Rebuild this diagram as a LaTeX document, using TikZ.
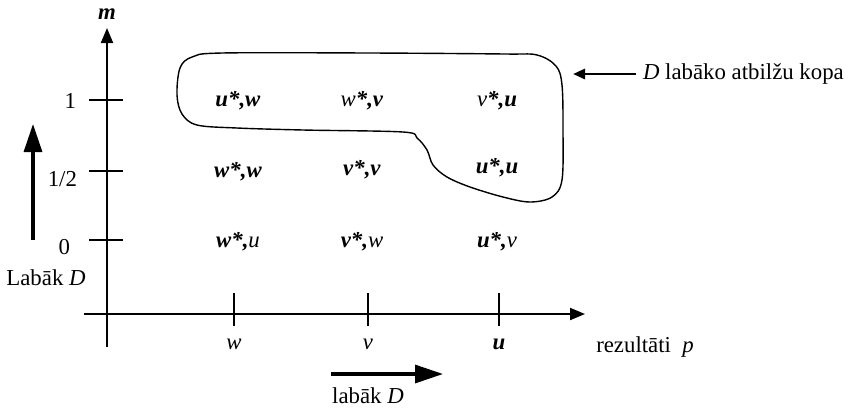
\documentclass[tikz,border=0pt]{standalone}
\usepackage{fontspec}
\setmainfont{Liberation Serif}
\usetikzlibrary{positioning}
\usetikzlibrary{arrows.meta}
\newcommand{\bfit}[1]{\textbf{\textit{#1}}}

\begin{document}
\begin{tikzpicture}[x=0.5pt, y=-0.5pt,
                font=\fontsize{11.4}{13}\selectfont,
                axisline/.style={line width=1pt, -{Triangle[length=7.5pt, width=6pt]}},
                tickline/.style={line width=0.75pt},
                bigarrow/.style={line width=1.6pt, -{Triangle[length=14pt, width=9pt]}},
                cellnode/.style={inner sep=1pt},
                blobline/.style={line width=0.7pt},
                ]
                \useasboundingbox (0,0) rectangle (850,409);

                % axes
                \coordinate (origin) at (107,314);
                \coordinate (ybot) at (107,347);
                \coordinate (ytop) at (107,28);
                \coordinate (xleft) at (84,314);
                \coordinate (xright) at (585,314);
                \draw[axisline] (ybot) -- (ytop);
                \draw[axisline] (xleft) -- (xright);
                \node (mlabel) at (107,14) {\bfit{m}};

                % ticks on m axis
                \draw[tickline] (89,100) -- (123,100);
                \draw[tickline] (89,171) -- (123,171);
                \draw[tickline] (89,240) -- (123,240);
                \node[anchor=east] (mone) at (83,101) {1};
                \node[anchor=east] (mhalf) at (84,179) {1/2};
                \node[anchor=east] (mzero) at (77,247) {0};

                % ticks on p axis
                \draw[tickline] (234,293) -- (234,326);
                \draw[tickline] (368,293) -- (368,326);
                \draw[tickline] (499,293) -- (499,326);
                \node (pw) at (234,344) {\textit{w}};
                \node (pv) at (368,344) {\textit{v}};
                \node (pu) at (499,344) {\bfit{u}};
                \node (plabel) at (645,347) {rezultāti~ \textit{p}};

                % outcomes
                \node[cellnode] (uw) at (238,101) {\bfit{u*,w}};
                \node[cellnode] (wv) at (362,101) {\textit{w}\bfit{*,v}};
                \node[cellnode] (vu) at (497,101) {\textit{v}\bfit{*,u}};
                \node[cellnode] (ww) at (238,172) {\bfit{w*,w}};
                \node[cellnode] (vv) at (362,170) {\bfit{v*,v}};
                \node[cellnode] (uu) at (497,168) {\bfit{u*,u}};
                \node[cellnode] (wu) at (238,242) {\bfit{w*,}\textit{u}};
                \node[cellnode] (vw) at (362,242) {\bfit{v*,}\textit{w}};
                \node[cellnode] (uv) at (497,242) {\bfit{u*,}\textit{v}};

                % best response set of D
                \draw[blobline] plot[smooth cycle, tension=0.55] coordinates {
                    (177,95) (180,68) (192,57) (222,53) (370,53) (505,54) (537,55)
                    (556,66) (562,85) (563,130) (562,180) (552,197) (530,202)
                    (503,197) (470,187) (447,177) (433,165) (427,150) (417,138)
                    (403,132) (303,130) (237,128) (197,125) (182,114)};

                \node[anchor=west] (setlabel) at (636,74) {\textit{D} labāko atbilžu kopa};
                \coordinate (settip) at (573,74);
                \draw[line width=1.4pt, -{Triangle[length=6pt, width=5pt]}] (setlabel.west) -- (settip);

                % better for D
                \coordinate (leftfrom) at (33,240);
                \coordinate (leftto) at (33,124);
                \draw[bigarrow] (leftfrom) -- (leftto);
                \node (leftlabel) at (46,278) {Labāk \textit{D}};

                \coordinate (botfrom) at (331,374);
                \coordinate (botto) at (443,374);
                \draw[bigarrow] (botfrom) -- (botto);
                \node (botlabel) at (368,396) {labāk \textit{D}};
            \end{tikzpicture}
\end{document}
